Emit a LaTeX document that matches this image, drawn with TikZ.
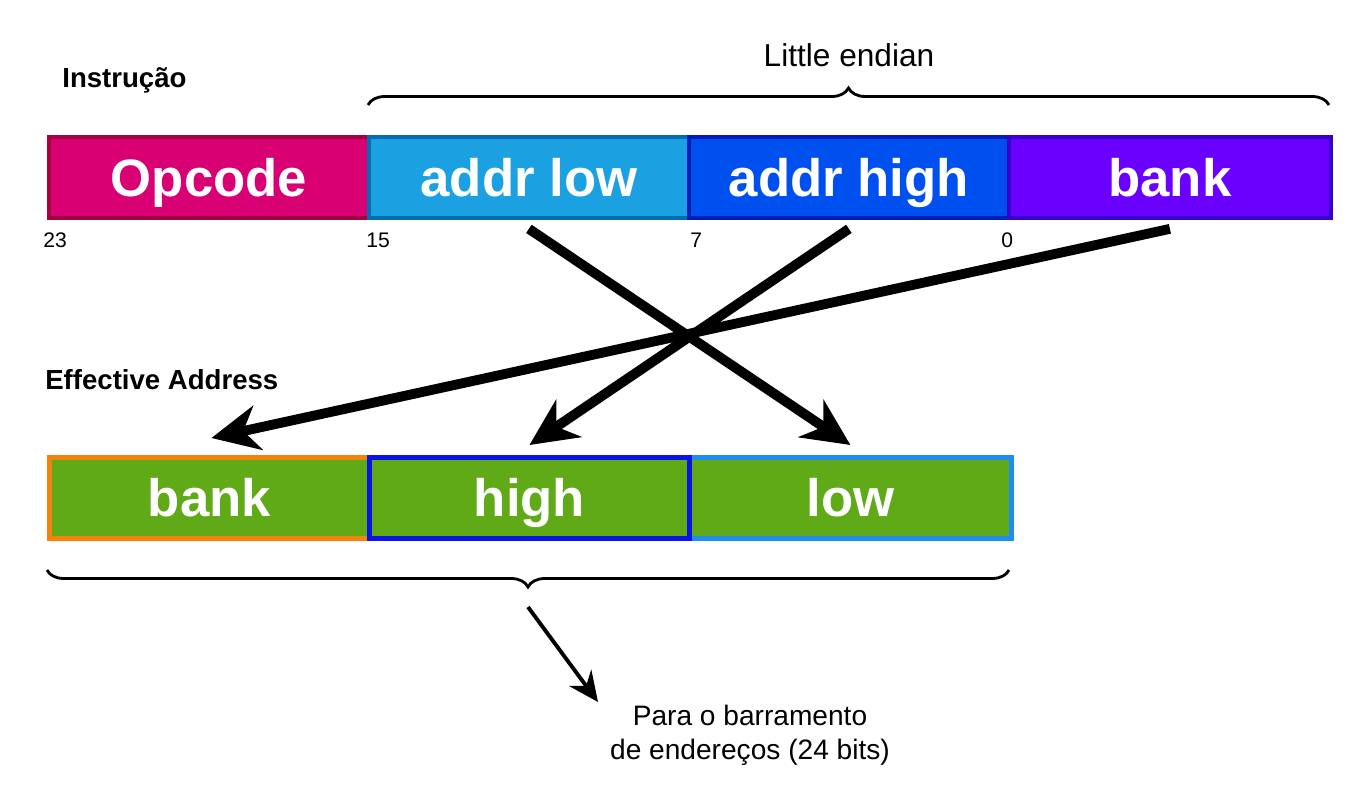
\documentclass[tikz,border=0pt]{standalone}
\usepackage{fontspec}
\setmainfont{Liberation Sans}
\usetikzlibrary{calc,arrows.meta,decorations.pathreplacing}
\definecolor{opfill}{HTML}{D80073}\definecolor{opline}{HTML}{A50040}
\definecolor{lowfill}{HTML}{1BA1E2}\definecolor{lowline}{HTML}{006EAF}
\definecolor{highfill}{HTML}{0050EF}\definecolor{highline}{HTML}{001DBC}
\definecolor{bankfill}{HTML}{6A00FF}\definecolor{bankline}{HTML}{3700CC}
\definecolor{efill}{HTML}{60A917}
\definecolor{eorange}{HTML}{F5820A}\definecolor{eblue}{HTML}{0A14E6}\definecolor{elight}{HTML}{1E8CF0}
\tikzset{
  field/.style={rectangle, line width=2.2pt, minimum width=6.4cm, minimum height=1.62cm,
     anchor=north west, text=white, font=\fontsize{30}{34}\selectfont\bfseries, inner sep=0pt,
     text height=21.6pt, text depth=0pt},
  efield/.style={field, line width=2.8pt, fill=efill},
  bigarrow/.style={line width=5.6pt, -{Stealth[length=0.95cm,width=0.9cm,inset=0.3cm]}},
  smallarrow/.style={line width=2.2pt, -{Stealth[length=0.6cm,width=0.55cm,inset=0.2cm]}},
  bracestyle/.style={line width=1.6pt, decorate, decoration={brace, amplitude=0.34cm}},
  bitnum/.style={font=\fontsize{12}{14}\selectfont, anchor=west, inner sep=0pt},
  title/.style={font=\fontsize{15.7}{18}\selectfont\bfseries, anchor=west, inner sep=0pt},
  plain/.style={font=\fontsize{18}{21}\selectfont, inner sep=0pt}
}
\begin{document}
\begin{tikzpicture}[x=0.02cm,y=-0.02cm]
\useasboundingbox (0,0) rectangle (1367,812);
% top fields
\node[field, fill=opfill, draw=opline] (op) at (47,135) {Opcode};
\node[field, fill=lowfill, draw=lowline] (alow) at (367,135) {addr low};
\node[field, fill=highfill, draw=highline] (ahigh) at (687,135) {addr high};
\node[field, fill=bankfill, draw=bankline, minimum width=6.44cm] (abank) at (1007,135) {bank};
% bottom fields
\node[efield, draw=eorange] (ebank) at (47,455) {bank};
\node[efield, draw=elight, minimum width=6.44cm] (elow) at (687,455) {low};
\node[efield, draw=eblue] (ehigh) at (367,455) {high};
% labels
\node[title] (tinstr) at (62,80) {Instrução};
\node[title] (teff) at (45,380) {Effective Address};
\node[bitnum] (n23) at (43,240) {23};
\node[bitnum] (n15) at (366,240) {15};
\node[bitnum] (n7) at (690,240) {7};
\node[bitnum] (n0) at (1001,240) {0};
% top brace
\coordinate (tb1) at (368,105);
\coordinate (tb2) at (1329,105);
\draw[bracestyle] (tb1) -- (tb2);
\node[plain] (tle) at (849,55) {Little endian};
% bottom brace
\coordinate (bb1) at (1009,570);
\coordinate (bb2) at (47,570);
\draw[bracestyle] (bb1) -- (bb2);
% arrows
\draw[bigarrow] ($(alow.south)+(0,9)$) -- ($(elow.north)+(0,-10)$);
\draw[bigarrow] ($(ahigh.south)+(0,9)$) -- ($(ehigh.north)+(0,-10)$);
\draw[bigarrow] ($(abank.south)+(0,9)$) -- ($(ebank.north)+(2,-17)$);
% output
\coordinate (btip) at (528,607);
\node[plain, font=\fontsize{16}{19.3}\selectfont, align=center] (tout) at (750,735) {Para o barramento\\de endereços (24 bits)};
\draw[smallarrow] (btip) -- (598,702);
\end{tikzpicture}
\end{document}
